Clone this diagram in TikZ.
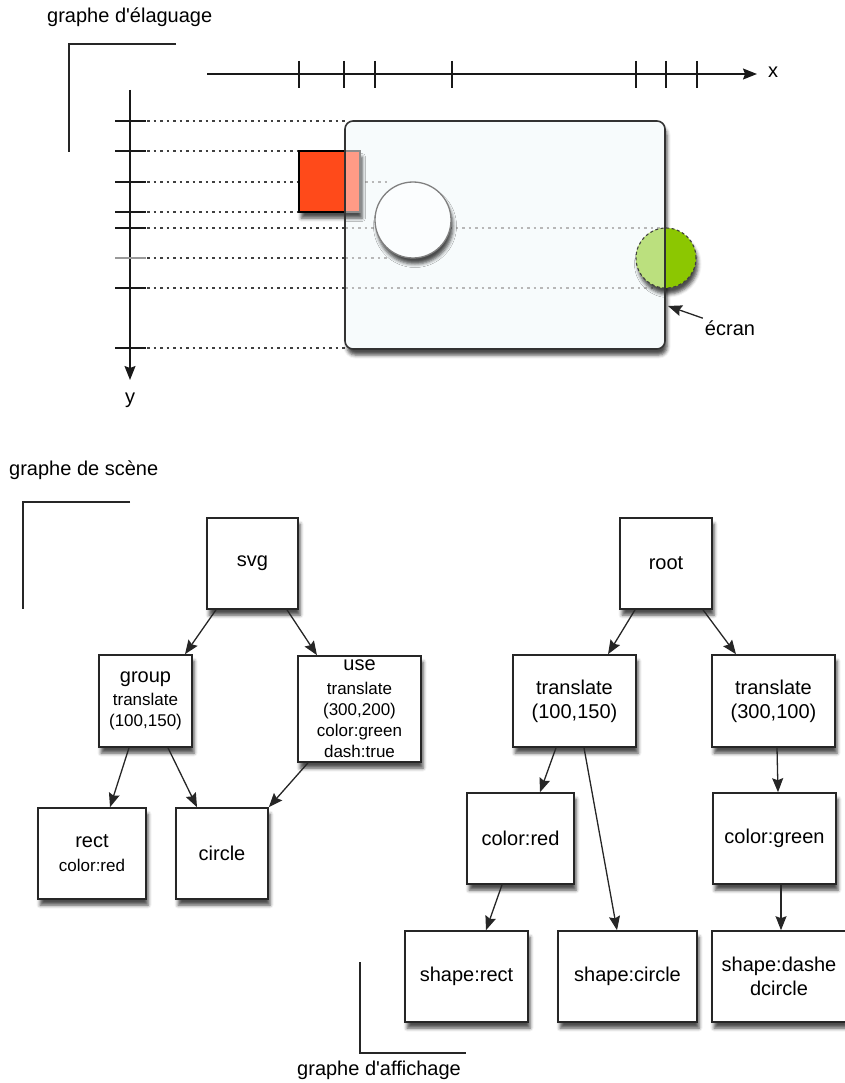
\documentclass[tikz,border=0pt]{standalone}
\usepackage{fontspec}
\setmainfont{Liberation Sans}[Ligatures=TeXOff]
\usetikzlibrary{arrows.meta,shadows.blur}

\definecolor{redfill}{HTML}{FF4A1A}
\definecolor{redlight}{HTML}{FF9B86}
\definecolor{greenlight}{HTML}{BBE07E}
\definecolor{greendark}{HTML}{8CC701}
\definecolor{screenfill}{HTML}{F7FBFC}
\definecolor{circlefill}{HTML}{FBFDFE}

\newcommand\bigtext{\fontsize{20}{24}\selectfont}
\newcommand\smtext{\fontsize{17}{21}\selectfont}

\tikzset{
  softshadow/.style={blur shadow={shadow xshift=2pt, shadow yshift=-6pt,
      shadow blur radius=3.5pt, shadow opacity=70}},
  treebox/.style={draw=black!85, line width=1.6pt, fill=white, align=center,
      inner sep=0pt, font=\bigtext, softshadow},
  smallbox/.style={treebox, font=\smtext},
  label/.style={font=\bigtext, inner sep=2pt},
  tip/.style={-{Stealth[length=14pt,width=11pt,inset=2pt]}},
  arr/.style={tip, line width=1.3pt, draw=black!85},
  guide/.style={line width=1.1pt, dash pattern=on 2.5pt off 4pt, draw=black!75},
  faint/.style={guide, draw=black!28},
  corner/.style={line width=1.4pt, draw=black!85},
  axis/.style={line width=1.4pt, draw=black!90},
}

\begin{document}
\begin{tikzpicture}[x=1pt, y=-1pt]
\useasboundingbox (0,0) rectangle (845,1083);

% ---------------- culling graph ----------------
\node[label, anchor=base west] (tcull) at (45,23) {graphe d'élaguage};
\draw[corner] (176,44) -- (69,44) -- (69,152);

% screen background
\path[fill=screenfill, rounded corners=8pt, softshadow] (345,121) rectangle (665,349);

% projection guides
\foreach \yy/\xe in {121/345, 151/299, 182/299, 212/299, 228/345, 258/345, 288/345, 348/345}
  \draw[guide] (147,\yy) -- (\xe,\yy);
\draw[faint] (365,182) -- (388,182);
\draw[faint] (345,228) -- (660,228);
\draw[faint] (345,258) -- (388,258);
\draw[faint] (345,288) -- (655,288);

% axes
\draw[axis, tip] (207,74) -- (757,74);
\foreach \xx in {299,344,375,452,636,666,697}
  \draw[axis] (\xx,61) -- (\xx,88);
\node[label, anchor=base] (xlab) at (773,78) {x};

\draw[axis, tip] (130,90) -- (130,380);
\foreach \yy in {121,151,182,212,228,288,348}
  \draw[axis] (115,\yy) -- (146,\yy);
\draw[line width=2.2pt, black!40] (115,258) -- (146,258);
\node[label, anchor=base] (ylab) at (130,403) {y};

% red rectangle, partly outside the screen
\fill[redlight, softshadow] (299,151) rectangle (360,212);
\draw[black!45, line width=1.2pt] (345,151) -- (360,151) -- (360,212) -- (345,212);
\filldraw[fill=redfill, draw=black, line width=1.3pt] (299,151) rectangle (345,212);

% white circle
\filldraw[fill=circlefill, draw=black!50, line width=1.3pt, softshadow] (413,220) circle[radius=38pt];

% green dashed circle on the screen edge
\fill[greendark, softshadow] (666,258) circle[radius=30pt];
\begin{scope}
  \clip (600,220) rectangle (665,300);
  \fill[greenlight] (666,258) circle[radius=30pt];
\end{scope}
\draw[black!75, line width=1.1pt, dash pattern=on 3pt off 2.5pt] (666,258) circle[radius=30pt];

% screen border
\draw[black!80, line width=1.6pt, rounded corners=8pt] (345,121) rectangle (665,349);

\node[label, anchor=base] (ecran) at (730,335) {écran};
\coordinate (ecranpt) at (668,306);
\draw[arr] (ecran) -- (ecranpt);

% ---------------- scene graph ----------------
\node[label, anchor=base west] (tscene) at (7,475) {graphe de scène};
\draw[corner] (130,502) -- (23,502) -- (23,609);

\node[treebox, minimum width=91pt, minimum height=91pt] (svg) at (252.5,563.5) {svg};
\node[smallbox, minimum width=93pt, minimum height=92pt] (group) at (145.5,701)
  {\bigtext group\\[2pt]translate\\(100,150)};
\node[smallbox, minimum width=123pt, minimum height=106pt] (use) at (359.5,709)
  {\bigtext use\\[3pt]translate\\(300,200)\\color:green\\dash:true};
\node[smallbox, minimum width=108pt, minimum height=91pt] (rect) at (92,853.5)
  {\bigtext rect\\[3pt]color:red};
\node[treebox, minimum width=92pt, minimum height=91pt] (circle) at (222,853.5) {circle};

\draw[arr] ([xshift=-36.5pt]svg.south) -- ([xshift=39.5pt]group.north);
\draw[arr] ([xshift=34.5pt]svg.south) -- ([xshift=-42.5pt]use.north);
\draw[arr] ([xshift=-16.5pt]group.south) -- ([xshift=18pt]rect.north);
\draw[arr] ([xshift=22.5pt]group.south) -- ([xshift=-25pt]circle.north);
\draw[arr] ([xshift=-51.5pt]use.south) -- (circle.north east);

% ---------------- display graph ----------------
\node[treebox, minimum width=92pt, minimum height=91pt] (root) at (666,563.5) {root};
\node[treebox, minimum width=123pt, minimum height=92pt] (tra) at (574.5,701)
  {translate\\(100,150)};
\node[treebox, minimum width=123pt, minimum height=92pt] (trb) at (773.5,701)
  {translate\\(300,100)};
\node[treebox, minimum width=107pt, minimum height=91pt] (cred) at (520.5,838.5) {color:red};
\node[treebox, minimum width=123pt, minimum height=91pt] (cgreen) at (774.5,838.5) {color:green};
\node[treebox, minimum width=123pt, minimum height=91pt] (srect) at (466.5,976.5) {shape:rect};
\node[treebox, minimum width=139pt, minimum height=91pt] (scircle) at (627.5,976.5) {shape:circle};
\node[treebox, minimum width=134pt, minimum height=91pt] (sdash) at (779,976.5)
  {shape:dashe\\dcircle};

\draw[arr] ([xshift=-31pt]root.south) -- ([xshift=33.5pt]tra.north);
\draw[arr] ([xshift=37pt]root.south) -- ([xshift=-37.5pt]trb.north);
\draw[arr] ([xshift=-18.5pt]tra.south) -- ([xshift=19.5pt]cred.north);
\draw[arr] ([xshift=9.5pt]tra.south) -- ([xshift=-10.5pt]scircle.north);
\draw[arr] ([xshift=3.5pt]trb.south) -- ([xshift=3.5pt]cgreen.north);
\draw[arr] ([xshift=-18.5pt]cred.south) -- ([xshift=19.5pt]srect.north);
\draw[arr] ([xshift=6.5pt]cgreen.south) -- ([xshift=2pt]sdash.north);

\draw[corner] (360,962) -- (360,1053) -- (466,1053);
\node[label, anchor=base east] (tdisp) at (463,1075) {graphe d'affichage};
\end{tikzpicture}
\end{document}
